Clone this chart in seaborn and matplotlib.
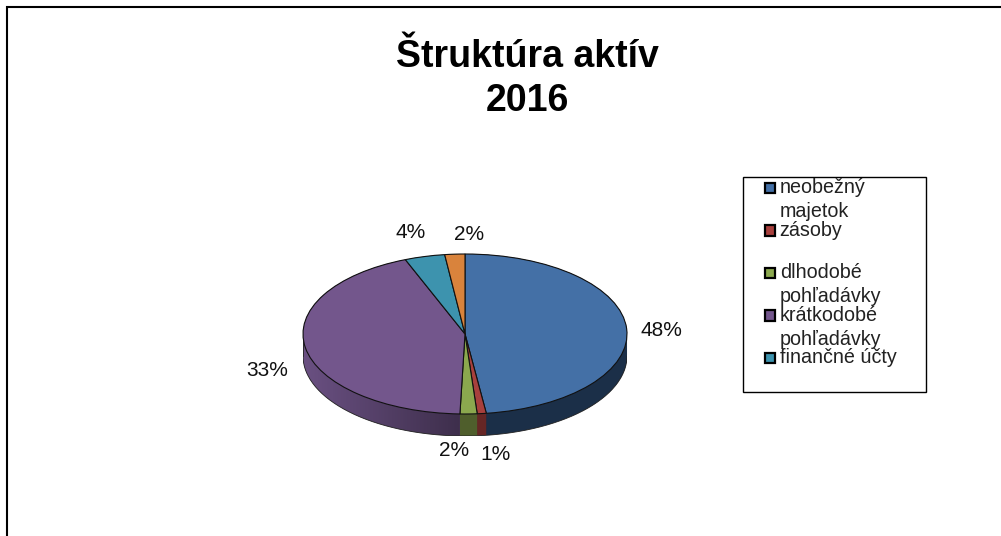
import numpy as np
import matplotlib
matplotlib.use("Agg")
import matplotlib.pyplot as plt
from matplotlib.patches import Patch, Polygon
import seaborn as sns

title = "Štruktúra aktív\n2016"
shares = [47.9, 0.9, 1.7, 43.5, 4, 2]
pct_labels = ["48%", "1%", "2%", "33%", "4%", "2%"]
legend_labels = ["neobežný\nmajetok", "zásoby\n ", "dlhodobé\npohľadávky",
                 "krátkodobé\npohľadávky", "finančné účty\n "]
top_colors = ["#4470A6", "#A8403D", "#8BA84E", "#73568C", "#3D93AE", "#D9833C"]
wall_colors = ["#1B2F48", "#662625", "#4F5E2C", "#6A5082", "#2A6A80", "#9A5C28"]

W, H = 1001, 536
CX, CY, RX, RY, DEPTH = 465, 334, 162, 80, 22

sns.set_theme(style="white")
plt.rcParams["font.family"] = ["Liberation Sans", "DejaVu Sans"]

fig = plt.figure(figsize=(W / 100, H / 100), dpi=100, facecolor="white")

# axes spans the ellipse plus the side wall
ax = fig.add_axes([(CX - RX) / W, (H - CY - RY - DEPTH) / H, 2 * RX / W, (2 * RY + DEPTH) / H])
depth = DEPTH / RY

for d in np.linspace(depth, 0, 45):
    ax.pie(shares, colors=wall_colors, startangle=90, counterclock=False, center=(0, -d),
           wedgeprops={"linewidth": 0})

# purple side gets darker towards the front, up to where the purple slice starts
t_end = np.pi / 2 - 2 * np.pi * sum(shares[:3]) / 100 + 2 * np.pi
t = np.linspace(np.pi, t_end, 80)
front = np.column_stack([np.cos(t), np.sin(t)])
band = Polygon(np.vstack([front, (front - [0, depth])[::-1]]), closed=True, transform=ax.transData,
               facecolor="none", edgecolor="none")
ax.add_patch(band)
shade = np.zeros((1, 200, 4))
shade[0, :, 3] = np.linspace(0, 0.42, 200)
img = ax.imshow(shade, extent=(-1, np.cos(t_end), -1 - depth, 0), aspect="auto", zorder=3)
img.set_clip_path(band)

# outline of the wall
t2 = np.linspace(np.pi, 2 * np.pi, 200)
ax.plot(np.cos(t2), np.sin(t2) - depth, color="#222222", lw=0.6, zorder=3)
ax.plot([-1, -1], [0, -depth], color="#222222", lw=0.6, zorder=3)
ax.plot([1, 1], [0, -depth], color="#222222", lw=0.6, zorder=3)

wedges, _ = ax.pie(shares, colors=top_colors, startangle=90, counterclock=False,
                   wedgeprops={"linewidth": 0.8, "edgecolor": "#111111"})
for w in wedges:
    w.set_zorder(4)
ax.set_aspect("auto")
ax.set_xlim(-1, 1)
ax.set_ylim(-1 - depth, 1)
ax.axis("off")

# overlay in pixel coordinates for frame and texts
over = fig.add_axes([0, 0, 1, 1], facecolor="none")
over.set_xlim(0, W)
over.set_ylim(H, 0)
over.axis("off")
over.plot([7, 7, W], [H, 7, 7], color="black", lw=1.5, solid_joinstyle="miter")

over.text(527, 79, title, ha="center", va="center", fontsize=27, fontweight="bold",
          color="black", linespacing=1.3)

label_pos = [(661, 331), (495, 455), (454, 450), (267, 370), (411, 232), (469, 234)]
for txt, (x, y) in zip(pct_labels, label_pos):
    over.text(x, y, txt, ha="center", va="center", fontsize=15, color="#111111")

handles = [Patch(facecolor=c, edgecolor="black", linewidth=1.6) for c in top_colors[:5]]
leg = fig.legend(handles, legend_labels, loc="upper left",
                 bbox_to_anchor=(743 / W, 1 - 390 / H, 183 / W, 213 / H), mode="expand",
                 borderaxespad=0, borderpad=0.05, frameon=True, fancybox=False, framealpha=1,
                 edgecolor="black", fontsize=14.2, handlelength=1.55, handleheight=0.6,
                 handletextpad=0.26, labelspacing=-0.02, labelcolor="#222222")
leg.get_frame().set_linewidth(1.0)
for txt in leg.get_texts():
    txt.set_linespacing(1.33)
# markers sit beside the first line of each entry
for h in leg.legend_handles:
    h.set_x(h.get_x() + 15)
    h.set_width(7.5)
    h.set_height(7.5)
    h.set_y(h.get_y() + 9.5)

fig.savefig("out.png", dpi=100)
